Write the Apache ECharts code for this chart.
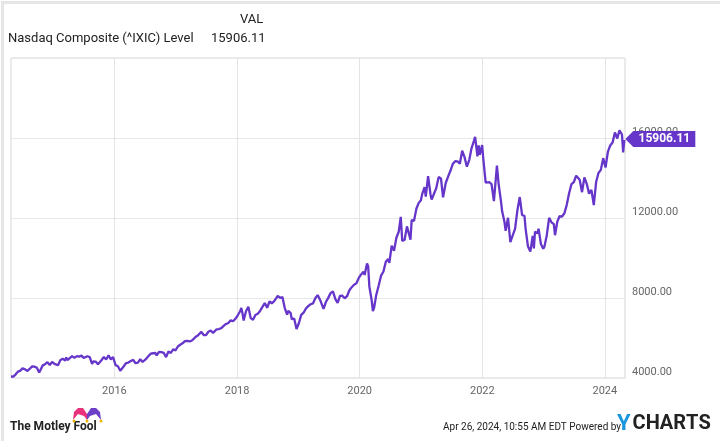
<!DOCTYPE html>
<html><head><meta charset="utf-8">
<script src="https://cdn.jsdelivr.net/npm/echarts@6/dist/echarts.min.js"></script>
<style>html,body{margin:0;padding:0;background:#fff}#c{width:720px;height:441px}</style>
</head><body><div id="c"></div>
<script>
const dates = ["2014-04-25","2014-05-09","2014-05-23","2014-06-06","2014-06-20","2014-07-03","2014-07-18","2014-08-01","2014-08-15","2014-08-29","2014-09-12","2014-09-26","2014-10-10","2014-10-17","2014-10-31","2014-11-14","2014-11-28","2014-12-12","2014-12-26",
"2015-01-09","2015-01-16","2015-01-30","2015-02-13","2015-02-27","2015-03-13","2015-03-20","2015-03-27","2015-04-10","2015-04-24","2015-05-08","2015-05-22","2015-06-05","2015-06-19","2015-07-02","2015-07-10","2015-07-24","2015-08-07","2015-08-21","2015-08-28","2015-09-11","2015-09-25","2015-10-02","2015-10-16","2015-10-30","2015-11-13","2015-11-27","2015-12-11","2015-12-24",
"2016-01-08","2016-01-22","2016-02-05","2016-02-12","2016-02-26","2016-03-11","2016-03-24","2016-04-08","2016-04-22","2016-05-06","2016-05-20","2016-06-03","2016-06-17","2016-06-24","2016-07-08","2016-07-22","2016-08-05","2016-08-19","2016-09-02","2016-09-09","2016-09-23","2016-10-07","2016-10-21","2016-11-04","2016-11-18","2016-12-02","2016-12-16","2016-12-30",
"2017-01-13","2017-01-27","2017-02-10","2017-02-24","2017-03-10","2017-03-24","2017-04-07","2017-04-13","2017-04-28","2017-05-12","2017-05-19","2017-06-02","2017-06-16","2017-06-30","2017-07-14","2017-07-28","2017-08-11","2017-08-18","2017-09-01","2017-09-15","2017-09-29","2017-10-13","2017-10-27","2017-11-10","2017-11-24","2017-12-08","2017-12-22",
"2018-01-05","2018-01-19","2018-01-26","2018-02-02","2018-02-09","2018-02-23","2018-03-09","2018-03-16","2018-03-23","2018-04-06","2018-04-20","2018-05-04","2018-05-18","2018-06-01","2018-06-15","2018-06-29","2018-07-13","2018-07-27","2018-08-10","2018-08-17","2018-08-31","2018-09-14","2018-09-28","2018-10-12","2018-10-26","2018-11-02","2018-11-16","2018-11-23","2018-12-07","2018-12-14","2018-12-21",
"2019-01-04","2019-01-18","2019-02-01","2019-02-15","2019-03-01","2019-03-15","2019-03-29","2019-04-12","2019-04-26","2019-05-10","2019-05-31","2019-06-14","2019-06-28","2019-07-12","2019-07-26","2019-08-09","2019-08-23","2019-09-06","2019-09-20","2019-10-04","2019-10-18","2019-11-01","2019-11-15","2019-11-29","2019-12-13","2019-12-27",
"2020-01-10","2020-01-24","2020-01-31","2020-02-14","2020-02-21","2020-02-28","2020-03-06","2020-03-13","2020-03-20","2020-03-27","2020-04-09","2020-04-24","2020-05-08","2020-05-22","2020-06-05","2020-06-19","2020-06-26","2020-07-10","2020-07-24","2020-08-07","2020-08-21","2020-09-02","2020-09-11","2020-09-25","2020-10-09","2020-10-16","2020-10-30","2020-11-06","2020-11-20","2020-12-04","2020-12-18","2020-12-31",
"2021-01-08","2021-01-22","2021-01-29","2021-02-12","2021-02-26","2021-03-05","2021-03-19","2021-04-01","2021-04-16","2021-04-30","2021-05-12","2021-05-28","2021-06-11","2021-06-25","2021-07-09","2021-07-23","2021-08-06","2021-08-20","2021-09-03","2021-09-17","2021-10-01","2021-10-15","2021-10-29","2021-11-12","2021-11-19","2021-12-03","2021-12-10","2021-12-17","2021-12-31",
"2022-01-07","2022-01-21","2022-01-28","2022-02-11","2022-02-25","2022-03-11","2022-03-29","2022-04-08","2022-04-22","2022-04-29","2022-05-13","2022-05-20","2022-06-03","2022-06-17","2022-07-01","2022-07-15","2022-07-29","2022-08-12","2022-08-26","2022-09-09","2022-09-16","2022-09-30","2022-10-14","2022-10-28","2022-11-04","2022-11-11","2022-11-25","2022-12-02","2022-12-16","2022-12-30",
"2023-01-06","2023-01-20","2023-02-03","2023-02-17","2023-03-03","2023-03-10","2023-03-24","2023-04-06","2023-04-21","2023-05-05","2023-05-19","2023-06-02","2023-06-16","2023-06-30","2023-07-14","2023-07-21","2023-08-04","2023-08-18","2023-09-01","2023-09-15","2023-09-29","2023-10-13","2023-10-27","2023-11-10","2023-11-24","2023-12-08","2023-12-22",
"2024-01-05","2024-01-19","2024-02-02","2024-02-16","2024-03-01","2024-03-15","2024-03-28","2024-04-12","2024-04-19","2024-04-26"];
const values = [4076,4071,4185,4321,4368,4486,4432,4352,4465,4580,4568,4512,4276,4258,4631,4689,4792,4653,4807,
4704,4634,4635,4893,4964,4871,5026,4892,4996,5092,5003,5090,5068,5117,5009,4998,5088,5044,4706,4828,4822,4687,4707,4887,5054,4927,5128,4933,5048,
4644,4591,4363,4338,4590,4748,4774,4851,4906,4737,4770,4942,4800,4708,4956,5100,5221,5238,5250,5126,5306,5292,5257,5046,5322,5256,5437,5383,
5575,5660,5734,5845,5861,5828,5877,5805,6047,6121,6084,6306,6151,6140,6312,6374,6256,6216,6435,6448,6496,6606,6701,6751,6890,6840,6960,
7136,7336,7506,7241,6874,7337,7560,7482,6993,6915,7146,7210,7354,7554,7746,7510,7826,7737,7839,7816,8110,8010,8046,7497,7167,7357,7248,6939,6969,6911,6450,
6739,7157,7264,7472,7595,7688,7729,7985,8146,7917,7453,7797,8006,8244,8330,7959,7751,8104,8118,7982,8089,8386,8541,8665,8735,9007,
9179,9315,9151,9731,9577,8567,8576,7875,7350,7502,8154,8634,9121,9325,9815,9946,9757,10617,10363,11011,11312,12056,10854,10914,11580,11672,10912,11895,11855,12464,12756,12888,
13202,13543,13071,14095,13192,12920,13215,13480,14052,13962,13032,13749,14070,14360,14701,14837,14835,14715,15363,15044,14567,14897,15498,15860,16057,15085,15630,15170,15645,
14936,13768,13770,13791,13694,12843,14619,13711,12839,12335,11805,11354,12013,10798,11128,11452,12391,13047,12142,12112,11448,10576,10321,11102,10475,11324,11226,11462,10705,10466,
10569,11140,12007,11787,11689,11139,11824,12088,12073,12235,12658,13241,13690,13788,14114,14033,13909,13291,14031,13708,13219,13407,12643,13798,14250,14404,14993,
14524,15311,15629,15776,16275,15973,16379,16175,15282,15906.11];
const yearTicks = ["2016","2018","2020","2022","2024"];
const yTicks = [4000, 8000, 12000, 16000, 20000];
const lastValue = "15906.11";
const xMin = "2014-04-25", xMax = "2024-04-30";

const chart = echarts.init(document.getElementById('c'));
const data = dates.map((d, i) => [d, values[i]]);
const PURPLE = '#6536c9';
chart.setOption({
  animation: false,
  backgroundColor: '#fff',
  textStyle: { fontFamily: 'Roboto' },
  grid: { left: 11, right: 95, top: 58, bottom: 63, show: true, borderColor: '#d6d6d6', borderWidth: 1, backgroundColor: 'transparent' },
  xAxis: {
    type: 'time', min: xMin, max: xMax,
    axisLine: { show: false }, axisTick: { show: false }, axisLabel: { show: false }, splitLine: { show: false }
  },
  yAxis: {
    type: 'value', position: 'right', min: yTicks[0], max: yTicks[yTicks.length - 1], interval: yTicks[1] - yTicks[0],
    axisLine: { show: false }, axisTick: { show: false },
    axisLabel: { showMaxLabel: false, formatter: v => v.toFixed(2), color: '#666', fontSize: 11, fontFamily: 'Roboto', margin: 7, verticalAlign: 'bottom' },
    splitLine: { lineStyle: { color: '#e8e8e8', width: 1 } }
  },
  series: [
    {
      type: 'line', z: 1, data: [], silent: true,
      markLine: {
        z: 1,
        silent: true, symbol: 'none', animation: false,
        lineStyle: { color: '#e4e4e4', width: 1, type: 'solid' },
        label: { show: true, position: 'start', formatter: '{b}', color: '#666', fontSize: 11, fontFamily: 'Roboto', distance: 8 },
        data: yearTicks.map(y => ({ name: y, xAxis: y + '-01-01' }))
      }
    },
    {
      type: 'line', z: 3, data: data, showSymbol: false, symbol: 'none',
      lineStyle: { color: PURPLE, width: 2.3 },
      markPoint: {
        z: 6,
        silent: true, animation: false,
        data: [{ coord: [dates[dates.length - 1], values[values.length - 1]], value: lastValue }],
        symbol: 'path://M0,8 L8,0 L70,0 L70,16 L8,16 Z',
        symbolSize: [70, 16], symbolKeepAspect: false,
        symbolOffset: [36, -1],
        itemStyle: { color: PURPLE },
        label: { show: true, position: 'inside', offset: [4, 0], formatter: lastValue, color: '#fff', fontWeight: 'bold', fontSize: 12, fontFamily: 'Roboto' }
      }
    }
  ],
  graphic: [
    { type: 'rect', left: 0, top: 0, shape: { width: 720, height: 441 }, style: { fill: 'none', stroke: '#e6e6e6', lineWidth: 3 }, silent: true, z: -1 },
    { type: 'text', left: 240, top: 13, style: { text: 'VAL', font: '13px Roboto', fill: '#222' } },
    { type: 'text', left: 8, top: 32, style: { text: 'Nasdaq Composite (^IXIC) Level', font: '13px Roboto', fill: '#222' } },
    { type: 'text', left: 211, top: 32, style: { text: lastValue, font: '13px Roboto', fill: '#222' } },
    { type: 'text', left: 443, top: 422, style: { text: 'Apr 26, 2024, 10:55 AM EDT Powered by', font: '10px Roboto', fill: '#222' } },
    { type: 'text', left: 617, top: 413, style: { rich: { y: { font: 'bold 22px Roboto', fill: '#1a96dc', padding: [0, 2, 0, 0] }, c: { font: 'bold 20px Roboto', fill: '#222' } }, text: '{y|Y}{c|C}{c|H}{c|A}{c|R}{c|T}{c|S}' } },
    { type: 'text', left: 10, top: 421, style: { text: 'The Motley Fool', font: 'bold 12px Roboto', fill: '#222' } },
    { type: 'polygon', shape: { points: [[73,420],[74,412],[78,408],[83,408],[87,414],[87,420],[84,416],[78,414]] }, style: { fill: '#e8317a' } },
    { type: 'polygon', shape: { points: [[87,414],[91,408],[96,408],[100,412],[101,420],[96,414],[90,416],[87,420]] }, style: { fill: '#6c3fc7' } },
    { type: 'circle', shape: { cx: 74, cy: 421, r: 1.5 }, style: { fill: '#f0b400' } },
    { type: 'circle', shape: { cx: 101, cy: 421, r: 1.5 }, style: { fill: '#f0b400' } },
    { type: 'circle', shape: { cx: 87, cy: 421, r: 1.5 }, style: { fill: '#f0b400' } }
  ]
});
</script></body></html>
